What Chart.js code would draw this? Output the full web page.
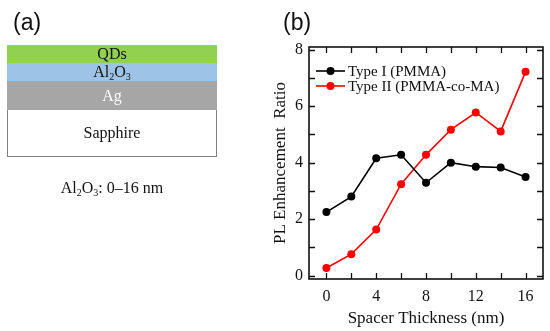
<!DOCTYPE html>
<html>
<head>
<meta charset="utf-8">
<script src="https://cdn.jsdelivr.net/npm/chart.js@4.4.0/dist/chart.umd.min.js"></script>
<style>
    html, body { margin: 0; padding: 0; background: #fff; }
    #wrap { position: relative; width: 550px; height: 331px; overflow: hidden; }
    #chart { position: absolute; left: 0; top: 0; }
    .lbl { position: absolute; font-family: "Liberation Sans", Arial, sans-serif; font-size: 23px; color: #111; }
    .layer { position: absolute; left: 7px; width: 210px; box-sizing: border-box; text-align: center;
             font-family: "Liberation Serif", "Times New Roman", serif; font-size: 16px; color: #111; }
    sub { font-size: 10px; vertical-align: -3px; line-height: 0; }
</style>
</head>
<body>
<div id="wrap">
    <canvas id="chart" width="550" height="331"></canvas>

    <!-- panel (a): layer stack -->
    <div class="lbl" style="left:13px; top:9px;">(a)</div>
    <div class="layer" style="top:45px; height:18px; line-height:18px; background:#92d050;">QDs</div>
    <div class="layer" style="top:63px; height:18px; line-height:18px; background:#9dc3e6;">Al<sub>2</sub>O<sub>3</sub></div>
    <div class="layer" style="top:81px; height:29px; line-height:29px; background:#a6a6a6; color:#fff;">Ag</div>
    <div class="layer" style="top:110px; height:47px; line-height:45px; background:#fff; border:1px solid #7f7f7f; border-top:none;">Sapphire</div>
    <div class="layer" style="top:178px; line-height:20px; font-size:16px;">Al<sub>2</sub>O<sub>3</sub>: 0–16 nm</div>

    <div class="lbl" style="left:283px; top:9px;">(b)</div>
</div>

<script>
document.addEventListener('DOMContentLoaded', function() {
    // Data (b)
    const thickness = [0, 2, 4, 6, 8, 10, 12, 14, 16];
    const typeI = [2.25, 2.80, 4.16, 4.28, 3.29, 4.00, 3.86, 3.83, 3.49];
    const typeII = [0.27, 0.76, 1.63, 3.24, 4.28, 5.17, 5.78, 5.11, 7.22];
    const xLabelTicks = [0, 4, 8, 12, 16];
    const xMarkTicks = [0, 2, 4, 6, 8, 10, 12, 14, 16];
    const yLabelTicks = [0, 2, 4, 6, 8];
    const yMarkTicks = [0, 1, 2, 3, 4, 5, 6, 7, 8];
    const seriesNames = ['Type I (PMMA)', 'Type II (PMMA-co-MA)'];

    const serif = '"Liberation Serif", "Times New Roman", serif';

    // Frame with inward ticks on every side
    const framePlugin = {
        id: 'frame',
        afterDatasetsDraw(chart) {
            const { ctx, chartArea: a, scales } = chart;
            const len = 6;
            ctx.save();
            ctx.strokeStyle = '#111';
            ctx.lineWidth = 1.3;
            ctx.beginPath();
            xMarkTicks.forEach(v => {
                const px = Math.round(scales.x.getPixelForValue(v)) + 0.5;
                ctx.moveTo(px, a.bottom); ctx.lineTo(px, a.bottom - len);
                ctx.moveTo(px, a.top); ctx.lineTo(px, a.top + len);
            });
            yMarkTicks.forEach(v => {
                const py = Math.round(scales.y.getPixelForValue(v)) + 0.5;
                ctx.moveTo(a.left, py); ctx.lineTo(a.left + len, py);
                ctx.moveTo(a.right, py); ctx.lineTo(a.right - len, py);
            });
            ctx.stroke();
            ctx.lineWidth = 1.6;
            ctx.strokeRect(a.left, a.top, a.right - a.left, a.bottom - a.top);
            ctx.restore();
        }
    };

    // Legend drawn inside the plot with line + marker symbols
    const legendPlugin = {
        id: 'innerLegend',
        afterDraw(chart) {
            const { ctx, chartArea: a } = chart;
            ctx.save();
            ctx.font = '15px ' + serif;
            ctx.textBaseline = 'middle';
            chart.data.datasets.forEach((ds, i) => {
                const y = a.top + 24 + i * 15;
                const x0 = a.left + 7;
                ctx.strokeStyle = ds.borderColor;
                ctx.lineWidth = 1.6;
                ctx.beginPath();
                ctx.moveTo(x0, y); ctx.lineTo(x0 + 29, y);
                ctx.stroke();
                ctx.fillStyle = ds.borderColor;
                ctx.beginPath();
                ctx.arc(x0 + 14.5, y, 4, 0, Math.PI * 2);
                ctx.fill();
                ctx.fillStyle = '#111';
                ctx.fillText(ds.label, x0 + 32, y + 1);
            });
            ctx.restore();
        }
    };

    const ctx = document.getElementById('chart').getContext('2d');
    new Chart(ctx, {
        type: 'line',
        data: {
            datasets: [{
                label: seriesNames[0],
                data: thickness.map((x, i) => ({ x: x, y: typeI[i] })),
                borderColor: '#000000',
                backgroundColor: '#000000',
                borderWidth: 1.6,
                pointRadius: 4,
                pointBorderWidth: 0
            }, {
                label: seriesNames[1],
                data: thickness.map((x, i) => ({ x: x, y: typeII[i] })),
                borderColor: '#ff0000',
                backgroundColor: '#ff0000',
                borderWidth: 1.6,
                pointRadius: 4,
                pointBorderWidth: 0
            }]
        },
        options: {
            responsive: false,
            animation: false,
            layout: { padding: { left: 262, right: 7, top: 47, bottom: 0 } },
            plugins: {
                legend: { display: false },
                tooltip: { enabled: false }
            },
            scales: {
                x: {
                    type: 'linear',
                    min: -1.4,
                    max: 17.4,
                    afterBuildTicks: s => { s.ticks = xLabelTicks.map(v => ({ value: v })); },
                    afterFit: s => { s.height = 52; },
                    grid: { display: false, drawTicks: false },
                    border: { display: false },
                    ticks: { color: '#111', font: { family: serif, size: 16 }, padding: 8, maxRotation: 0 },
                    title: { display: true, text: 'Spacer Thickness (nm)', color: '#111',
                             font: { family: serif, size: 17 }, padding: { top: 0, bottom: 2 } }
                },
                y: {
                    type: 'linear',
                    min: -0.12,
                    max: 8.1,
                    afterBuildTicks: s => { s.ticks = yLabelTicks.map(v => ({ value: v })); },
                    afterFit: s => { s.width = 47; },
                    grid: { display: false, drawTicks: false },
                    border: { display: false },
                    ticks: { color: '#111', font: { family: serif, size: 16 }, padding: 6 },
                    title: { display: true, text: 'PL Enhancement  Ratio', color: '#111',
                             font: { family: serif, size: 17 }, padding: { top: 8, bottom: 0 } }
                }
            }
        },
        plugins: [framePlugin, legendPlugin]
    });
});
</script>
</body>
</html>
